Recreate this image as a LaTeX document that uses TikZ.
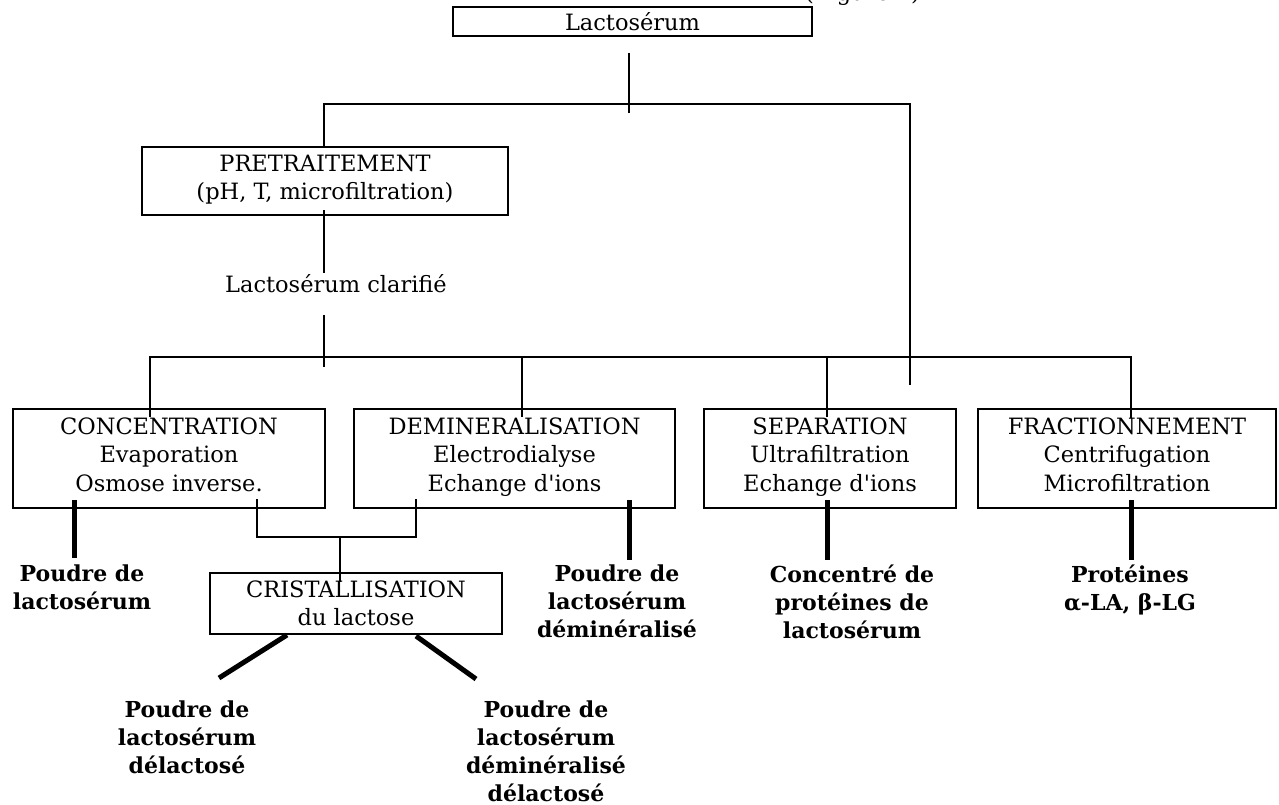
\documentclass[tikz,border=0pt]{standalone}
\usepackage{fontspec}
\setmainfont{DejaVu Serif}
\newfontfamily\plainquote{DejaVu Serif}
\newcommand\bottomstrut[1]{\rule[-#1]{0pt}{0pt}}
\newcommand\apos{{\plainquote '}}
\begin{document}
\begin{tikzpicture}[x=1pt,y=-1pt]
\tikzset{
  thinl/.style={line width=2pt},
  thickl/.style={line width=5pt},
  box/.style={draw, line width=2.2pt, align=center, inner sep=0pt,
    font=\fontsize{22.5}{28.5}\selectfont},
  regtext/.style={inner sep=0pt, font=\fontsize{22.5}{28.5}\selectfont},
  prod/.style={align=center, inner sep=0pt, anchor=north,
    font=\fontsize{22}{27.8}\selectfont\bfseries}
}
\useasboundingbox (0,0) rectangle (1279,805);
\fill[white] (0,0) rectangle (1279,805);

% partly visible caption at the top edge
\node[regtext, anchor=base west] (fig) at (805,1) {(Figure 1)};

% boxes
\node[box, minimum width=359pt, minimum height=29pt] (lacto) at (632.5,21.5) {Lactosérum};
\node[box, minimum width=366pt, minimum height=68pt] (pre) at (325,181)
  {PRETRAITEMENT\\(pH, T, microfiltration)\bottomstrut{7.5pt}};
\node[regtext, anchor=base] (clar) at (336,292) {Lactosérum clarifié};

\node[box, minimum width=312pt, minimum height=99pt] (conc) at (169,458.5)
  {CONCENTRATION\\Evaporation\\Osmose inverse.\bottomstrut{8pt}};
\node[box, minimum width=321pt, minimum height=99pt] (demin) at (514.5,458.5)
  {DEMINERALISATION\\Electrodialyse\\Echange d\apos ions\bottomstrut{8pt}};
\node[box, minimum width=252pt, minimum height=99pt] (sep) at (830,458.5)
  {SEPARATION\\Ultrafiltration\\Echange d\apos ions\bottomstrut{8pt}};
\node[box, minimum width=298pt, minimum height=99pt] (fract) at (1127,458.5)
  {FRACTIONNEMENT\\Centrifugation\\Microfiltration\bottomstrut{8pt}};

\node[box, minimum width=292pt, minimum height=61pt] (crist) at (356,603.5)
  {CRISTALLISATION\\du lactose};

% products
\node[prod] (p1) at (82,565) {Poudre de\\lactosérum};
\node[prod] (p2) at (617,565) {Poudre de\\lactosérum\\déminéralisé};
\node[prod] (p3) at (852,565) {Concentré de\\protéines de\\lactosérum};
\node[prod] (p4) at (1130,565) {Protéines\\α-LA, β-LG};
\node[prod] (p5) at (187,701) {Poudre de\\lactosérum\\délactosé};
\node[prod] (p6) at (546,701) {Poudre de\\lactosérum\\déminéralisé\\délactosé};

% connector end points
\coordinate (a1) at (629,53);
\coordinate (a2) at (629,113);
\coordinate (topbus) at (0,104);
\coordinate (r1) at (910,385);
\coordinate (pretop) at (324,147);
\coordinate (b1) at (324,210);
\coordinate (b2) at (324,273);
\coordinate (c1) at (324,315);
\coordinate (c2) at (324,367);
\coordinate (bus) at (0,357);
\coordinate (k1) at (150,417);
\coordinate (k2) at (522,417);
\coordinate (k3) at (827,417);
\coordinate (k4) at (1131,418);
\coordinate (t1a) at (74,500);   \coordinate (t1b) at (74,558);
\coordinate (t2a) at (629,500);  \coordinate (t2b) at (629,560);
\coordinate (t3a) at (827,500);  \coordinate (t3b) at (827,560);
\coordinate (t4a) at (1131,500); \coordinate (t4b) at (1131,560);
\coordinate (m1) at (257,499);
\coordinate (m2) at (416,499);
\coordinate (mbus) at (0,537);
\coordinate (m3) at (340,582);
\coordinate (d1a) at (287,635); \coordinate (d1b) at (219,678);
\coordinate (d2a) at (416,636); \coordinate (d2b) at (476,679);

% connectors
\draw[thinl] (a1) -- (a2);
\draw[thinl] (pretop) -- (pretop|-topbus) -- (r1|-topbus) -- (r1);
\draw[thinl] (b1) -- (b2);
\draw[thinl] (c1) -- (c2);
\draw[thinl] (k1) -- (k1|-bus) -- (k4|-bus) -- (k4);
\draw[thinl] (k2) -- (k2|-bus);
\draw[thinl] (k3) -- (k3|-bus);
\draw[thickl] (t1a) -- (t1b);
\draw[thickl] (t2a) -- (t2b);
\draw[thickl] (t3a) -- (t3b);
\draw[thickl] (t4a) -- (t4b);
\draw[thinl] (m1) -- (m1|-mbus) -- (m2|-mbus) -- (m2);
\draw[thinl] (m3|-mbus) -- (m3);
\draw[thickl] (d1a) -- (d1b);
\draw[thickl] (d2a) -- (d2b);
\end{tikzpicture}
\end{document}
